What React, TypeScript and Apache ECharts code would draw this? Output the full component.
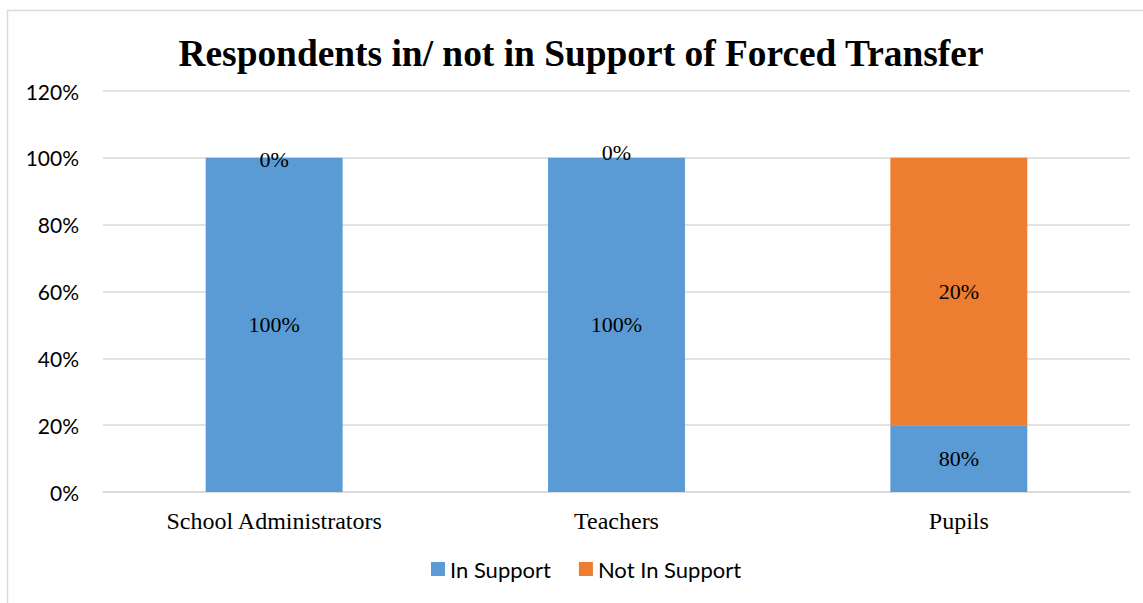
import React, { useEffect, useRef } from "react";
import * as echarts from "echarts";

const categories = ["School Administrators", "Teachers", "Pupils"];
const inSupportHeights = [1.0, 1.0, 0.2];
const notInSupportHeights = [0, 0, 0.8];
const inSupportLabels = ["100%", "100%", "80%"];
const notInSupportLabels = ["0%", "0%", "20%"];
const yTicks = [0, 0.2, 0.4, 0.6, 0.8, 1.0, 1.2];

const SERIF = "'Liberation Serif', 'Times New Roman', serif";
const SANS = "Lato, 'Open Sans', sans-serif";

export default function App() {
  const ref = useRef<HTMLDivElement>(null);
  useEffect(() => {
    if (!ref.current) return;
    const chart = echarts.init(ref.current, null, { renderer: "svg" });
    chart.setOption({
      animation: false,
      backgroundColor: "#ffffff",
      title: {
        text: "Respondents in/ not in Support of Forced Transfer",
        left: 576,
        textAlign: "center",
        top: 30,
        textStyle: { fontFamily: SERIF, fontWeight: "bold", fontSize: 37.4, color: "#000" },
      },
      graphic: [
        {
          type: "rect",
          shape: { x: 7.5, y: 10.5, width: 1200, height: 700 },
          style: { fill: "none", stroke: "#d9d9d9", lineWidth: 1.5 },
          silent: true,
        },
      ],
      legend: {
        bottom: 23,
        left: 431,
        padding: 0,
        itemWidth: 14,
        itemHeight: 14,
        itemGap: 28,
        icon: "rect",
        textStyle: { fontFamily: SANS, fontSize: 22, color: "#000" },
        data: ["In Support", "Not In Support"],
      },
      grid: { left: 103, right: 13, top: 91, bottom: 111, containLabel: false },
      xAxis: {
        type: "category",
        data: categories,
        axisLine: { lineStyle: { color: "#d9d9d9", width: 1.5 } },
        axisTick: { show: false },
        axisLabel: { fontFamily: SERIF, fontSize: 24, color: "#000", margin: 17 },
      },
      yAxis: {
        type: "value",
        min: 0,
        max: 1.2,
        interval: 0.2,
        axisLabel: {
          fontFamily: SANS,
          fontSize: 21,
          color: "#000",
          margin: 24,
          formatter: (v: number) => {
            const t = yTicks.find((x) => Math.abs(x - v) < 1e-6);
            return Math.round((t ?? v) * 100) + "%";
          },
        },
        splitLine: { lineStyle: { color: "#d9d9d9", width: 1.5 } },
        axisLine: { show: false },
        axisTick: { show: false },
      },
      series: [
        {
          name: "In Support",
          type: "bar",
          stack: "total",
          barWidth: "40%",
          itemStyle: { color: "#5b9bd5" },
          label: {
            show: true,
            position: "inside",
            fontFamily: SERIF,
            fontSize: 22,
            color: "#000",
            formatter: (p: any) => inSupportLabels[p.dataIndex],
          },
          data: inSupportHeights,
        },
        {
          name: "Not In Support",
          type: "bar",
          stack: "total",
          barWidth: "40%",
          itemStyle: { color: "#ed7d31" },
          label: {
            show: true,
            position: "inside",
            fontFamily: SERIF,
            fontSize: 22,
            color: "#000",
            formatter: (p: any) => notInSupportLabels[p.dataIndex],
          },
          data: notInSupportHeights.map((v, i) => ({
            value: v,
            label: i === 0 ? { offset: [0, 2] } : i === 1 ? { offset: [0, -5] } : {},
          })),
        },
      ],
    });
    return () => chart.dispose();
  }, []);
  return (
    <div
      ref={ref}
      style={{ position: "fixed", left: 0, top: 0, width: 1143, height: 603 }}
    />
  );
}
